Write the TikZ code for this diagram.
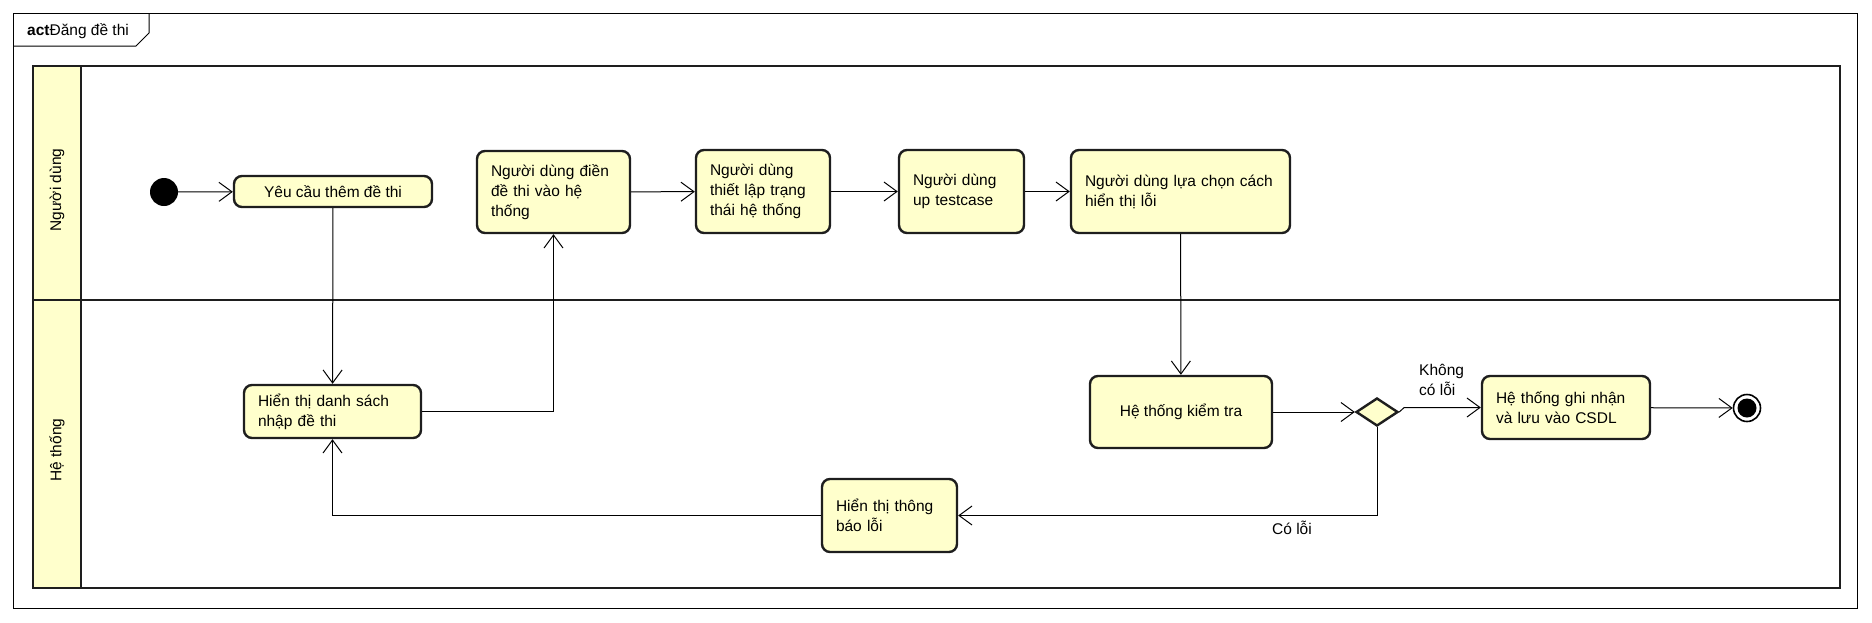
\documentclass[tikz,border=0pt]{standalone}
\usepackage{fontspec}
\setmainfont{Liberation Sans}
\usetikzlibrary{arrows.meta,shapes.geometric}
\definecolor{actyellow}{RGB}{255,255,204}
\definecolor{edgegray}{RGB}{30,30,30}

\begin{document}
\begin{tikzpicture}[x=1pt,y=-1pt,
	font=\fontsize{15.5}{20}\selectfont,
	actbox/.style={draw=edgegray,line width=2.4pt,fill=actyellow,rounded corners=8pt,
		inner xsep=14pt,inner ysep=0pt,align=left},
	lanebox/.style={draw=edgegray,line width=2.6pt},
	flow/.style={-{Straight Barb[length=13pt,width=19pt]},line width=1pt},
	lbl/.style={inner sep=0pt,align=left}]
	\useasboundingbox (0,0) rectangle (1872,622);
	% frame
	\draw[line width=1pt] (13,13) rectangle (1857,608);
	\draw[line width=1pt] (13,46) -- (136,46) -- (149,33) -- (149,13);
	\node[lbl,anchor=west] (title) at (27,31) {\textbf{act}Đăng đề thi};
	% swimlanes
	\fill[actyellow] (33,66) rectangle (81,588);
	\draw[lanebox] (33,66) rectangle (1840,588);
	\draw[lanebox] (81,66) -- (81,588);
	\draw[lanebox] (33,300) -- (1840,300);
	\node[lbl,rotate=90] (lane1) at (57,190) {Người dùng};
	\node[lbl,rotate=90] (lane2) at (57,450) {Hệ thống};
	% nodes
	\node[circle,fill=black,minimum size=28pt,inner sep=0pt] (start) at (164,192) {};
	\node[actbox,align=center,minimum width=198pt,minimum height=31pt] (yc) at (333,191.5) {Yêu cầu thêm đề thi};
	\node[actbox,text width=125pt,minimum height=82pt] (dien) at (553.5,192) {Người dùng điền\\đề thi vào hệ\\thống};
	\node[actbox,text width=106pt,minimum height=83pt] (thietlap) at (763,191.5) {Người dùng\\thiết lập trạng\\thái hệ thống};
	\node[actbox,text width=97pt,minimum height=83pt] (upt) at (961.5,191.5) {Người dùng\\up testcase};
	\node[actbox,text width=191pt,minimum height=83pt] (luachon) at (1180.5,191.5) {Người dùng lựa chọn cách\\hiển thị lỗi};
	\node[actbox,text width=149pt,minimum height=53pt] (danhsach) at (332.5,411.5) {Hiển thị danh sách\\nhập đề thi};
	\node[actbox,align=center,minimum width=182pt,minimum height=72pt] (kiemtra) at (1181,412) {Hệ thống kiểm tra};
	\node[diamond,draw=edgegray,line width=2.4pt,fill=actyellow,minimum width=42pt,minimum height=28pt,inner sep=0pt] (dec) at (1377,412) {};
	\node[actbox,text width=140pt,minimum height=63pt] (ghinhan) at (1566,407.5) {Hệ thống ghi nhận\\và lưu vào CSDL};
	\node[circle,draw=black,line width=1.6pt,fill=white,minimum size=27pt,inner sep=0pt] (end) at (1747,408) {};
	\fill[black] (end.center) circle (9.5pt);
	\node[actbox,text width=107pt,minimum height=73pt] (baoloi) at (889.5,515.5) {Hiển thị thông\\báo lỗi};
	% connectors
	\draw[flow] (start) -- (yc);
	\draw[flow] (yc) -- (danhsach);
	\draw[flow] (danhsach.east) -| (dien.south);
	\draw[flow] (dien) -- (thietlap);
	\draw[flow] (thietlap) -- (upt);
	\draw[flow] (upt) -- (luachon);
	\draw[flow] (luachon) -- (kiemtra);
	\draw[flow] (kiemtra) -- (dec);
	\draw[flow] (dec.east) -- ([xshift=5pt]dec.east |- ghinhan.west) -- (ghinhan.west);
	\draw[flow] (ghinhan) -- (end);
	\draw[flow] (dec.south) |- (baoloi.east);
	\draw[flow] (baoloi.west) -| (danhsach.south);
	% guards
	\node[lbl,anchor=west] (khong) at (1419,380) {Không\\có lỗi};
	\node[lbl] (coloi) at (1292,528) {Có lỗi};
\end{tikzpicture}
\end{document}
